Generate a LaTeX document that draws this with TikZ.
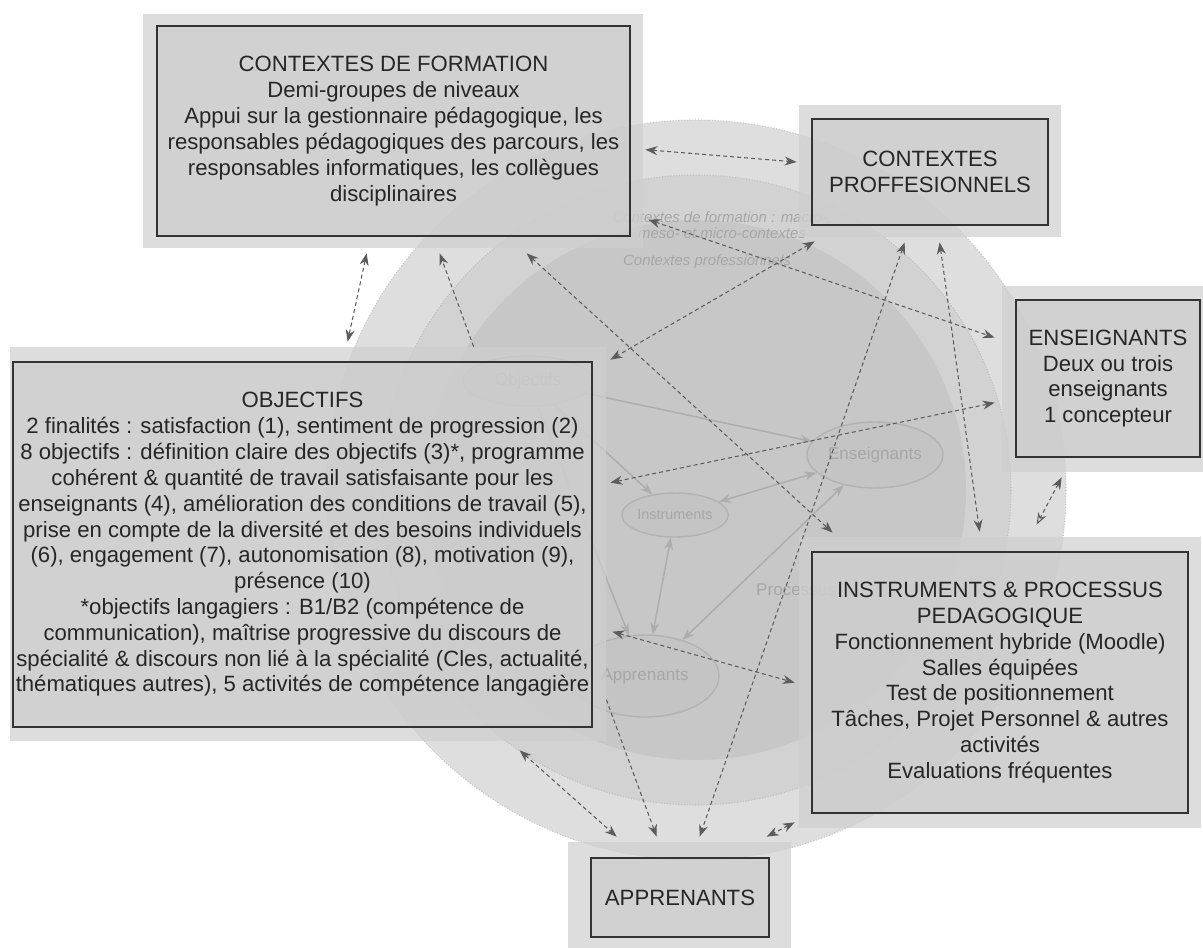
\documentclass[tikz,border=0pt]{standalone}
\usepackage{fontspec}
\setmainfont{Liberation Sans}
\usepackage{tikz}
\usetikzlibrary{calc,arrows.meta,shapes.geometric}
\definecolor{cercleA}{HTML}{DEDEDE}
\definecolor{cercleB}{HTML}{D2D2D2}
\definecolor{cercleC}{HTML}{C7C7C7}
\definecolor{flou}{HTML}{A6A6A6}
\definecolor{fleche}{HTML}{5C5C5C}
\newcommand{\boxfont}{\fontsize{12.6pt}{14.7pt}\selectfont}

\begin{document}
\begin{tikzpicture}[x=0.02cm, y=-0.02cm, >=Stealth,
    frame/.style={fill=black!19, fill opacity=0.7, draw=none, inner sep=0pt},
    bloc/.style={draw=black!80, line width=0.7pt, fill=black!20, fill opacity=0.65,
                 text opacity=1, inner sep=0pt, align=center, font=\boxfont, text=black!85},
    bulle/.style={ellipse, draw=black!30, line width=0.8pt, fill=black!23, inner sep=0pt,
                  text=flou, font=\fontsize{9.7pt}{11pt}\selectfont},
    lien/.style={draw=black!32, line width=0.85pt,
                 arrows={-Stealth[length=2.4mm,width=1.8mm]}},
    lienB/.style={lien, arrows={Stealth[length=2.4mm,width=1.8mm]-Stealth[length=2.4mm,width=1.8mm]}},
    pointille/.style={draw=fleche, line width=0.6pt, dash pattern=on 2.3pt off 1.7pt,
                 arrows={Stealth[length=2.4mm,width=1.8mm]-Stealth[length=2.4mm,width=1.8mm]}}]
  \useasboundingbox (0,0) rectangle (1203,947);
  \clip (0,0) rectangle (1203,947);
  \fill[white] (0,0) rectangle (1203,947);
  % trois cercles concentriques du schema de fond
  \fill[cercleA, draw=black!22, densely dotted, line width=0.6pt] (696,490) circle[radius=370];
  \fill[cercleB, draw=black!26, densely dotted, line width=0.6pt] (696,490) circle[radius=315];
  \fill[cercleC] (696,490) circle[radius=270];
  % etiquettes pales du fond
  \node[text=flou, font=\fontsize{8.5pt}{9.1pt}\selectfont\itshape, align=center]
      (lblForm) at (722,225) {Contextes de formation : macro-,\\meso- et micro-contextes};
  \node[text=flou, font=\fontsize{8.5pt}{9.1pt}\selectfont\itshape]
      (lblProf) at (707,262) {Contextes professionnels};
  \node[text=flou, font=\fontsize{9.7pt}{11pt}\selectfont] (lblProc) at (796,590) {Processus};
  \node[bulle, minimum width=2.6cm, minimum height=1.0cm, text=black!45] (objE) at (528,381) {Objectifs};
  \node[bulle, minimum width=2.72cm, minimum height=1.32cm] (ensE) at (875,455) {Enseignants};
  \node[bulle, minimum width=2.08cm, minimum height=0.88cm,
        font=\fontsize{8.2pt}{10pt}\selectfont] (instE) at (675,515) {Instruments};
  \node[bulle, minimum width=2.96cm, minimum height=1.64cm] (appE) at (645,676) {Apprenants};
  \draw[lien] (objE) -- (ensE);
  \draw[lien] (objE) -- (instE);
  \draw[lien] (objE) -- (appE);
  \draw[lienB] (instE) -- (ensE);
  \draw[lienB] (instE) -- (appE);
  \draw[lienB] (ensE) -- (appE);
  % cadres clairs autour des blocs
  \foreach \n/\cx/\cy/\w/\h in {formF/393/131/500/234, profF/930/171/262/132,
                                ensF/1108/379/212/186, objF/308/544/596/394,
                                instF/1000/682.5/402/291, appF/679.5/897/223/110}
    \node[frame, minimum width=\w*0.02cm, minimum height=\h*0.02cm] (\n) at (\cx,\cy) {};
  % blocs
  \node[bloc, minimum width=9.46cm, minimum height=4.2cm] (form) at (393.5,131)
      {CONTEXTES DE FORMATION\\Demi-groupes de niveaux\\
       Appui sur la gestionnaire pédagogique, les\\
       responsables pédagogiques des parcours, les\\
       responsables informatiques, les collègues\\disciplinaires};
  \node[bloc, minimum width=4.72cm, minimum height=2.12cm] (prof) at (930,172)
      {CONTEXTES\\PROFFESIONNELS};
  \node[bloc, minimum width=3.68cm, minimum height=3.14cm] (ens) at (1108,378.5)
      {ENSEIGNANTS\\Deux ou trois\\enseignants\\1 concepteur};
  \node[bloc, minimum width=11.58cm, minimum height=7.3cm] (obj) at (302.5,544.5)
      {OBJECTIFS\\
       2 finalités : satisfaction (1), sentiment de progression (2)\\
       8 objectifs : définition claire des objectifs (3)*, programme\\
       cohérent \& quantité de travail satisfaisante pour les\\
       enseignants (4), amélioration des conditions de travail (5),\\
       prise en compte de la diversité et des besoins individuels\\
       (6), engagement (7), autonomisation (8), motivation (9),\\
       présence (10)\\
       *objectifs langagiers : B1/B2 (compétence de\\
       communication), maîtrise progressive du discours de\\
       spécialité \& discours non lié à la spécialité (Cles, actualité,\\
       thématiques autres), 5 activités de compétence langagière};
  \node[bloc, minimum width=7.52cm, minimum height=5.22cm] (inst) at (1000,682.5)
      {INSTRUMENTS \& PROCESSUS\\PEDAGOGIQUE\\Fonctionnement hybride (Moodle)\\
       Salles équipées\\Test de positionnement\\Tâches, Projet Personnel \& autres\\
       activités\\Evaluations fréquentes};
  \node[bloc, minimum width=3.56cm, minimum height=1.58cm] (app) at (680,897.5) {APPRENANTS};
  % liens pointilles entre les cadres (double pointe)
  \foreach \a/\ax/\ay/\b/\bx/\by in {
      formF.north east/2/136/profF.west/-2/-9,
      formF.south west/224/5/objF.north west/338/-5,
      formF.south west/384/5/instF.north west/34/-4,
      formF.north east/5/206/ensF.north west/-7/52,
      profF.south west/16/4/objF.north east/4/13,
      profF.south west/106/5/appF.north west/132/-5,
      profF.south west/141/5/instF.north west/181/-5,
      objF.north east/4/136/ensF.north west/-7/117,
      objF.north east/6/285/instF.north west/-4/146,
      objF.south west/510/9/appF.north west/49/-5,
      instF.south west/-4/-6/appF.north west/199/-5}
    \draw[pointille] ($(\a)+(\ax,\ay)$) -- ($(\b)+(\bx,\by)$);
  % liens a une seule pointe
  \draw[pointille, arrows={-Stealth[length=2.4mm,width=1.8mm]}]
      ($(objF.north west)+(464,0)$) -- ($(formF.south west)+(297,5)$);
  \draw[pointille, arrows={-Stealth[length=2.4mm,width=1.8mm]}]
      ($(objF.north east)+(0,353)$) -- ($(appF.north west)+(89,-5)$);
  \draw[pointille, arrows={Stealth[length=2.4mm,width=1.8mm]-Stealth[length=2.4mm,width=1.8mm,open]}]
      ($(ensF.south west)+(60,5)$) -- ($(instF.north west)+(238,-12)$);
\end{tikzpicture}
\end{document}
